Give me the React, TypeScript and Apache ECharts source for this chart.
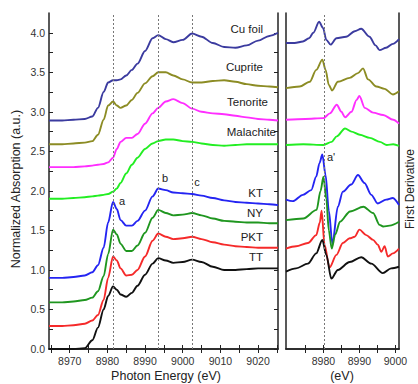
import React, { useEffect, useRef } from "react";
import * as echarts from "echarts";

// ---------- Left panel: XANES (normalized absorption) ----------
const leftE = [8964.5, 8968, 8971, 8974, 8976, 8977.5, 8979, 8980.2, 8981.5, 8982.5, 8983.5, 8985, 8986.5, 8988, 8990, 8992, 8993.5, 8995.5, 8997.5, 9000, 9002.5, 9005, 9008, 9011, 9014, 9017, 9020, 9023, 9025.3];
const cuFoil = [2.89, 2.89, 2.9, 2.91, 2.94, 3.05, 3.25, 3.37, 3.4, 3.4, 3.41, 3.46, 3.53, 3.61, 3.77, 3.93, 3.97, 3.92, 3.88, 3.91, 3.99, 3.95, 3.87, 3.82, 3.81, 3.84, 3.9, 3.96, 4.0];
const cuprite = [2.59, 2.59, 2.6, 2.61, 2.63, 2.71, 2.9, 3.08, 3.13, 3.08, 3.05, 3.08, 3.15, 3.24, 3.36, 3.45, 3.5, 3.5, 3.46, 3.41, 3.37, 3.37, 3.39, 3.4, 3.38, 3.35, 3.33, 3.32, 3.31];
const tenorite = [2.3, 2.3, 2.3, 2.31, 2.32, 2.33, 2.34, 2.36, 2.42, 2.53, 2.62, 2.67, 2.67, 2.72, 2.85, 2.98, 3.05, 3.13, 3.16, 3.11, 3.04, 3.0, 2.98, 2.97, 2.95, 2.93, 2.91, 2.9, 2.89];
const malachite = [1.9, 1.9, 1.91, 1.92, 1.93, 1.94, 1.95, 1.96, 1.99, 2.03, 2.1, 2.22, 2.33, 2.42, 2.53, 2.6, 2.63, 2.65, 2.65, 2.63, 2.62, 2.6, 2.58, 2.57, 2.58, 2.59, 2.59, 2.59, 2.59];
const kt = [0.9, 0.9, 0.91, 0.93, 0.97, 1.06, 1.28, 1.6, 1.86, 1.77, 1.63, 1.56, 1.56, 1.62, 1.75, 1.93, 2.03, 2.01, 1.98, 1.97, 1.96, 1.94, 1.91, 1.88, 1.86, 1.85, 1.84, 1.83, 1.82];
const ny = [0.59, 0.59, 0.6, 0.62, 0.65, 0.73, 0.92, 1.2, 1.51, 1.45, 1.33, 1.24, 1.24, 1.31, 1.47, 1.66, 1.76, 1.72, 1.69, 1.7, 1.72, 1.69, 1.65, 1.62, 1.61, 1.6, 1.6, 1.59, 1.59];
const pkt = [0.29, 0.29, 0.3, 0.32, 0.36, 0.43, 0.62, 0.9, 1.17, 1.12, 1.02, 0.93, 0.94, 1.0, 1.17, 1.37, 1.46, 1.42, 1.39, 1.4, 1.42, 1.39, 1.35, 1.32, 1.3, 1.29, 1.28, 1.28, 1.28];
const tt = [0.0, 0.0, 0.0, 0.01, 0.11, 0.27, 0.5, 0.67, 0.79, 0.75, 0.69, 0.66, 0.71, 0.8, 0.94, 1.08, 1.15, 1.12, 1.09, 1.1, 1.13, 1.1, 1.04, 1.0, 1.0, 1.01, 1.02, 1.02, 1.02];

// ---------- Right panel: first derivative (offset, a.u.) ----------
const cuFoilDeriv = [[8969.6, 3.87], [8972, 3.87], [8974.3, 3.89], [8976, 3.93], [8977.2, 4.0], [8978.8, 4.14], [8979.9, 4.06], [8980.8, 3.91], [8982, 3.85], [8983.6, 3.93], [8986.3, 3.95], [8988.7, 4.02], [8990.5, 4.05], [8992.8, 3.95], [8994.5, 3.84], [8995.6, 3.78], [8997.4, 3.81], [8999.3, 3.86], [9001, 3.92]];
const cupriteDeriv = [[8969.6, 3.3], [8973.4, 3.32], [8976.2, 3.38], [8978, 3.53], [8979.7, 3.66], [8980.6, 3.53], [8981.5, 3.34], [8982.4, 3.27], [8984, 3.38], [8987.3, 3.43], [8989.6, 3.49], [8991, 3.55], [8992.4, 3.41], [8994.7, 3.32], [8997, 3.29], [8999.3, 3.22], [9001, 3.26]];
const tenoriteDeriv = [[8969.6, 2.9], [8975, 2.91], [8980, 2.92], [8981.8, 2.98], [8983.7, 3.09], [8985, 3.0], [8986, 2.93], [8987.8, 3.0], [8989.2, 3.15], [8990, 3.2], [8991.5, 3.05], [8993.8, 2.99], [8996.6, 2.96], [8999.4, 2.9], [9001, 2.85]];
const malachiteDeriv = [[8969.6, 2.58], [8974.4, 2.59], [8980, 2.58], [8982.3, 2.62], [8983.7, 2.69], [8986, 2.79], [8987.8, 2.75], [8990.1, 2.71], [8992.9, 2.67], [8995.7, 2.62], [8997.6, 2.58], [8999.4, 2.59], [9001, 2.57]];
const ktDeriv = [[8969.6, 1.89], [8971.5, 1.87], [8974.3, 1.95], [8976.6, 2.01], [8978, 2.18], [8978.9, 2.35], [8979.7, 2.46], [8980.6, 2.2], [8981.5, 1.75], [8982.5, 1.33], [8984, 1.8], [8985.4, 1.99], [8987.7, 2.08], [8989.6, 2.2], [8991.4, 2.1], [8993.3, 1.95], [8995.1, 1.84], [8997.4, 1.89], [8999.3, 1.91], [9001, 1.82]];
const nyDeriv = [[8969.6, 1.63], [8974.4, 1.65], [8978.1, 1.76], [8979.2, 2.0], [8980, 2.18], [8980.8, 1.9], [8981.5, 1.5], [8982.3, 1.27], [8983.3, 1.45], [8984.6, 1.61], [8987.4, 1.74], [8991.1, 1.8], [8993.8, 1.72], [8995.6, 1.57], [8996.6, 1.55], [8998.4, 1.56], [9001, 1.61]];
const pktDeriv = [[8969.6, 1.27], [8972.4, 1.3], [8975.7, 1.34], [8978, 1.44], [8979, 1.6], [8979.5, 1.75], [8980.3, 1.32], [8981.7, 1.03], [8983.6, 1.19], [8985.4, 1.34], [8987.3, 1.4], [8988.7, 1.42], [8990, 1.51], [8991.9, 1.44], [8993.8, 1.38], [8995.1, 1.32], [8996.1, 1.23], [8997, 1.3], [8997.9, 1.17], [8999.3, 1.21], [9001, 1.27]];
const ttDeriv = [[8969.6, 0.98], [8972.4, 1.02], [8975.7, 1.08], [8978, 1.21], [8979.7, 1.38], [8980.8, 1.19], [8982.2, 0.89], [8984, 1.0], [8987.3, 1.1], [8990.5, 1.16], [8993.3, 1.08], [8996.5, 0.96], [8998.8, 1.02], [9001, 1.04]];

const sampleNames = ["Cu foil", "Cuprite", "Tenorite", "Malachite", "KT", "NY", "PKT", "TT"];
const colors = ["#3b3b9f", "#8c8c24", "#ff2eff", "#22ee22", "#2424f2", "#1f961f", "#f52a2a", "#111111"];
const leftSeriesValues = [cuFoil, cuprite, tenorite, malachite, kt, ny, pkt, tt];
const rightSeriesValues = [cuFoilDeriv, cupriteDeriv, tenoriteDeriv, malachiteDeriv, ktDeriv, nyDeriv, pktDeriv, ttDeriv];

const leftXLabels = [8970, 8980, 8990, 9000, 9010, 9020];
const leftXTicks = [8965, 8970, 8975, 8980, 8985, 8990, 8995, 9000, 9005, 9010, 9015, 9020, 9025];
const yLabels = [0, 0.5, 1, 1.5, 2, 2.5, 3, 3.5, 4];
const yTicks = [0, 0.25, 0.5, 0.75, 1, 1.25, 1.5, 1.75, 2, 2.25, 2.5, 2.75, 3, 3.25, 3.5, 3.75, 4];
const rightXLabels = [8980, 8990, 9000];
const rightXTicks = [8975, 8980, 8985, 8990, 8995, 9000];
const leftMarkers = [8981.5, 8993.5, 9002.6];
const rightMarkers = [8980.2];

const FONT = "Liberation Sans, Arial, sans-serif";
const AX = "#222";

export default function App() {
  const ref = useRef<HTMLDivElement>(null);
  useEffect(() => {
    document.body.style.margin = "0";
    if (!ref.current) return;
    const chart = echarts.init(ref.current, undefined, { renderer: "svg" });

    const axisLine = { show: true, lineStyle: { color: AX, width: 1.5 } };
    const tick = (vals: number[]) => ({ show: true, inside: true, length: 4, customValues: vals, lineStyle: { color: AX, width: 1 } });
    const lbl = (vals: number[], extra: any = {}) => ({ show: true, customValues: vals, color: "#333", fontSize: 10.5, fontFamily: FONT, ...extra });

    const xBase = (grid: number, min: number, max: number) => ({
      type: "value", gridIndex: grid, min, max, splitLine: { show: false }, axisLine,
    });
    const yBase = (grid: number) => ({
      type: "value", gridIndex: grid, min: 0, max: 4.25, splitLine: { show: false }, axisLine,
    });

    const series: any[] = [];
    leftSeriesValues.forEach((vals, i) => {
      series.push({
        type: "line", name: sampleNames[i], xAxisIndex: 0, yAxisIndex: 0,
        data: leftE.map((e, j) => [e, vals[j]]),
        showSymbol: false, symbol: "none", smooth: 0.3, smoothMonotone: "x",
        lineStyle: { color: colors[i], width: 1.9 }, itemStyle: { color: colors[i] },
        markLine: i === 0 ? {
          silent: true, symbol: ["none", "none"], label: { show: false },
          lineStyle: { color: "#777", type: [2, 2], width: 1 },
          data: leftMarkers.map((m) => ({ xAxis: m })),
        } : undefined,
      });
    });
    rightSeriesValues.forEach((vals, i) => {
      series.push({
        type: "line", name: sampleNames[i] + " deriv", xAxisIndex: 2, yAxisIndex: 2,
        data: vals,
        showSymbol: false, symbol: "none", smooth: 0.3, smoothMonotone: "x",
        lineStyle: { color: colors[i], width: 1.9 }, itemStyle: { color: colors[i] },
        markLine: i === 0 ? {
          silent: true, symbol: ["none", "none"], label: { show: false },
          lineStyle: { color: "#777", type: [2, 2], width: 1 },
          data: rightMarkers.map((m) => ({ xAxis: m })),
        } : undefined,
      });
    });

    const labelText = (text: string, x: number, y: number, align = "right", size = 11.5) => ({
      type: "text", x, y, silent: true,
      style: { text, fill: "#222", font: `${size}px ${FONT}`, align, verticalAlign: "middle", textAlign: align, textVerticalAlign: "middle" },
    });
    const rotText = (text: string, x: number, y: number, size = 12.5) => ({
      type: "text", x, y, rotation: Math.PI / 2, silent: true,
      style: { text, fill: "#222", font: `${size}px ${FONT}`, align: "center", verticalAlign: "middle", textAlign: "center", textVerticalAlign: "middle" },
    });

    chart.setOption({
      animation: false,
      backgroundColor: "#fff",
      grid: [
        { left: 49, top: 13, width: 229, height: 336 },
        { left: 286, top: 13, width: 113, height: 336 },
      ],
      xAxis: [
        { ...xBase(0, 8964.5, 9025.3), position: "bottom", axisTick: tick(leftXTicks), axisLabel: lbl(leftXLabels, { margin: 6, formatter: (v: number) => String(v) }) },
        { ...xBase(0, 8964.5, 9025.3), position: "top", axisTick: tick(leftXTicks), axisLabel: { show: false } },
        { ...xBase(1, 8969.6, 9001), position: "bottom", axisTick: tick(rightXTicks), axisLabel: lbl(rightXLabels, { margin: 6, formatter: (v: number) => String(v) }) },
        { ...xBase(1, 8969.6, 9001), position: "top", axisTick: tick(rightXTicks), axisLabel: { show: false } },
      ],
      yAxis: [
        { ...yBase(0), position: "left", axisTick: tick(yTicks), axisLabel: lbl(yLabels, { margin: 4, formatter: (v: number) => v.toFixed(1) }) },
        { ...yBase(0), position: "right", axisTick: tick(yTicks), axisLabel: { show: false } },
        { ...yBase(1), position: "left", axisTick: { show: false }, axisLabel: { show: false } },
        { ...yBase(1), position: "right", axisTick: { show: false }, axisLabel: { show: false } },
      ],
      series,
      graphic: [
        labelText("Cu foil", 263, 29),
        labelText("Cuprite", 263, 67),
        labelText("Tenorite", 268, 102),
        labelText("Malachite", 276, 132),
        labelText("KT", 263, 193),
        labelText("NY", 263, 213),
        labelText("PKT", 263, 237),
        labelText("TT", 263, 257),
        labelText("a", 122, 201, "center", 11),
        labelText("b", 165, 178, "center", 11),
        labelText("c", 197, 182, "center", 11),
        labelText("a'", 331, 157, "center", 11),
        rotText("Normalized Absorption (a.u.)", 16, 189),
        labelText("Photon Energy (eV)", 166, 376, "center", 12.5),
        labelText("(eV)", 342, 376, "center", 12.5),
        rotText("First Derivative", 410, 189, 12),
      ],
    });
    return () => chart.dispose();
  }, []);
  return <div ref={ref} style={{ width: 418, height: 384 }} />;
}
